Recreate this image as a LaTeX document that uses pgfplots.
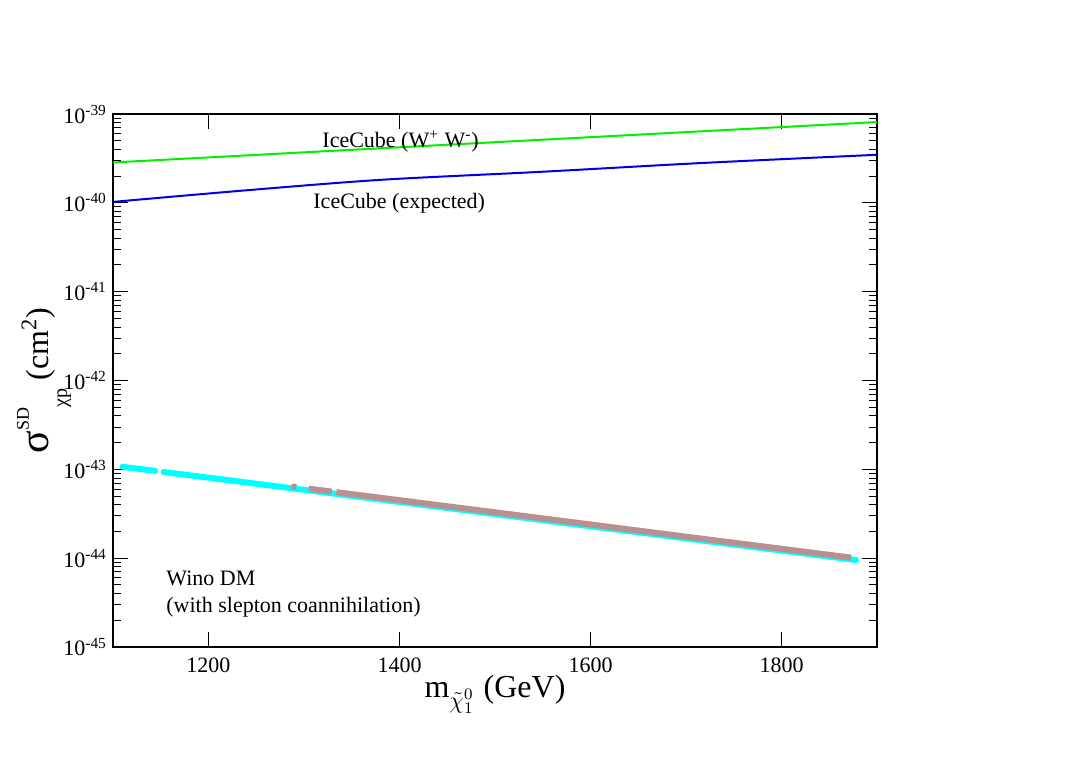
\documentclass[border=0pt]{standalone}
\usepackage{fontspec}
\setmainfont{Liberation Serif}
\usepackage{pgfplots}
\pgfplotsset{compat=1.18}
\definecolor{wcyan}{RGB}{0,255,255}
\definecolor{wbrown}{RGB}{188,143,143}
\definecolor{icegreen}{RGB}{0,240,0}
\definecolor{iceblue}{RGB}{0,0,230}
\begin{document}
\begin{tikzpicture}
\path[use as bounding box] (-56.5pt,-57.5pt) rectangle (483pt,323.5pt);
\begin{axis}[
  scale only axis,
  width=382pt, height=266.5pt,
  at={(0,0)}, anchor=south west,
  ymode=log,
  xmin=1100, xmax=1900,
  ymin=1e-45, ymax=1e-39,
  xtick={1200,1400,1600,1800},
  xticklabels={1200,1400,1600,1800},
  ytick={1e-45,1e-44,1e-43,1e-42,1e-41,1e-40,1e-39},
  yticklabels={10\textsuperscript{-45},10\textsuperscript{-44},10\textsuperscript{-43},10\textsuperscript{-42},10\textsuperscript{-41},10\textsuperscript{-40},10\textsuperscript{-39}},
  minor ytick={2e-45,3e-45,4e-45,5e-45,6e-45,7e-45,8e-45,9e-45,
               2e-44,3e-44,4e-44,5e-44,6e-44,7e-44,8e-44,9e-44,
               2e-43,3e-43,4e-43,5e-43,6e-43,7e-43,8e-43,9e-43,
               2e-42,3e-42,4e-42,5e-42,6e-42,7e-42,8e-42,9e-42,
               2e-41,3e-41,4e-41,5e-41,6e-41,7e-41,8e-41,9e-41,
               2e-40,3e-40,4e-40,5e-40,6e-40,7e-40,8e-40,9e-40},
  minor xtick={},
  tick align=inside,
  major tick length=7.5pt,
  minor tick length=4pt,
  every tick/.style={black, line width=0.5pt},
  axis line style={line width=0.6pt},
  ticklabel style={font=\fontsize{11}{13}\selectfont},
  xticklabel style={yshift=-2pt},
  yticklabel style={xshift=0.5pt},
  xlabel={\fontsize{16}{18}\selectfont m\raisebox{-5.5pt}{\fontsize{12}{12}\selectfont$\tilde{\chi}^{0}_{1}$}\kern1pt{} (GeV)},
  xlabel style={at={(axis description cs:0.5,0)}, anchor=base, yshift=-25pt},
  ylabel={\fontsize{16}{18}\selectfont{\fontsize{21}{22}\selectfont σ}\raisebox{10pt}{\fontsize{9}{10}\selectfont SD}\raisebox{-9pt}{\fontsize{10}{10}\selectfont χp} (cm\textsuperscript{2})},
  ylabel style={at={([xshift=-32pt]axis description cs:0,0.5)}, anchor=base, rotate=0},
  clip=true,
]
% IceCube (W+W-)
\addplot[icegreen, line width=1pt] coordinates {
 (1100,2.85e-40) (1500,4.82e-40) (1900,8.13e-40)
};
% IceCube (expected)
\addplot[iceblue, line width=1pt, smooth] coordinates {
 (1100,1.026e-40) (1241,1.39e-40) (1381,1.82e-40) (1549,2.24e-40) (1716,2.81e-40) (1900,3.48e-40)
};
% Wino DM (cyan)
\addplot[wcyan, line width=3pt, line cap=round] coordinates {
 (1110,1.07e-43) (1144,9.63e-44)
};
\addplot[wcyan, line width=3pt, line cap=round] coordinates {
 (1153,9.36e-44) (1300,5.89e-44) (1500,3.14e-44) (1700,1.67e-44) (1878,9.55e-45)
};
% Wino DM with slepton coannihilation (brown)
\addplot[wbrown, line width=3pt] coordinates {
 (1287,6.43e-44) (1292,6.32e-44)
};
\addplot[wbrown, line width=3pt] coordinates {
 (1305,6.07e-44) (1329,5.63e-44)
};
\addplot[wbrown, line width=3pt] coordinates {
 (1334,5.54e-44) (1500,3.29e-44) (1700,1.75e-44) (1873,1.016e-44)
};
\node[anchor=base west, font=\fontsize{11}{13}\selectfont, inner sep=0pt] at (rel axis cs:0.2736,0.937) {IceCube (W\textsuperscript{+} W\textsuperscript{-})};
\node[anchor=base west, font=\fontsize{11}{13}\selectfont, inner sep=0pt] at (rel axis cs:0.2618,0.8230) {IceCube (expected)};
\node[anchor=base west, font=\fontsize{11}{13}\selectfont, inner sep=0pt] at (rel axis cs:0.0694,0.1157) {Wino DM};
\node[anchor=base west, font=\fontsize{11}{13}\selectfont, inner sep=0pt] at (rel axis cs:0.0694,0.0657) {(with slepton coannihilation)};
\end{axis}
\end{tikzpicture}
\end{document}
